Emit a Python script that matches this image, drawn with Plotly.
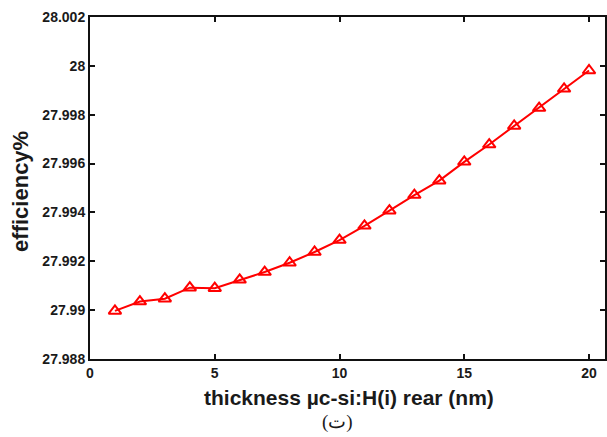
import plotly.graph_objects as go

thickness = list(range(1, 21))
efficiency = [27.98997, 27.99035, 27.99047, 27.99092, 27.99090, 27.99124, 27.99156,
              27.99194, 27.99238, 27.99287, 27.99345, 27.99407, 27.99471, 27.99530,
              27.99607, 27.99678, 27.99754, 27.99827, 27.99906, 27.99981]

x_ticks = [0, 5, 10, 15, 20]
y_ticks = [27.988, 27.990, 27.992, 27.994, 27.996, 27.998, 28.000, 28.002]
y_tick_text = ["27.988", "27.99", "27.992", "27.994", "27.996", "27.998", "28", "28.002"]

fig = go.Figure()
fig.add_trace(go.Scatter(
    x=thickness, y=efficiency, mode="lines+markers",
    line=dict(color="#ff0000", width=2),
    marker=dict(symbol="triangle-up-open", size=11, color="#ff0000", line=dict(width=2, color="#ff0000")),
    showlegend=False,
))

tickfont = dict(family="Liberation Sans", size=14, color="#1a1a1a", weight="bold")
axis_common = dict(showgrid=False, zeroline=False, showline=True, linecolor="#111111", linewidth=2,
                   mirror="ticks", ticks="inside", ticklen=5, tickwidth=1.5, tickcolor="#111111",
                   tickfont=tickfont)

fig.update_layout(
    width=607, height=437,
    margin=dict(l=90, r=0, t=17, b=78),
    plot_bgcolor="white", paper_bgcolor="white",
    xaxis=dict(range=[0, 20.64], tickvals=x_ticks, ticktext=[str(v) for v in x_ticks], **axis_common),
    yaxis=dict(range=[27.988, 28.002], tickvals=y_ticks, ticktext=y_tick_text, **axis_common),
    annotations=[
        dict(text="thickness µc-si:H(i) rear (nm)", xref="paper", yref="paper", x=0.502, y=-0.112,
             xanchor="center", yanchor="middle", showarrow=False,
             font=dict(family="Liberation Sans", size=21, color="#1a1a1a", weight="bold")),
        dict(text="efficiency%", xref="paper", yref="paper", x=-0.135, y=0.49, textangle=-90,
             xanchor="center", yanchor="middle", showarrow=False,
             font=dict(family="Liberation Sans", size=22, color="#1a1a1a", weight="bold")),
        dict(text="(ت)", xref="paper", yref="paper", x=0.48, y=-0.183,
             xanchor="center", yanchor="middle", showarrow=False,
             font=dict(family="Liberation Serif", size=19, color="#1a1a1a")),
    ],
)

fig.write_html("out.html")
